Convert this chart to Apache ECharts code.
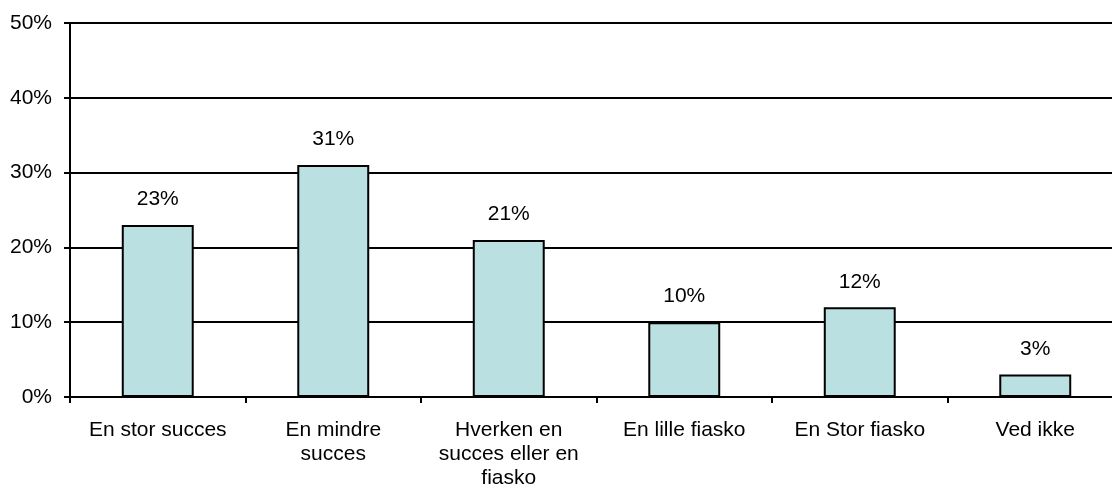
<!DOCTYPE html>
<html>
<head>
<meta charset="utf-8">
<script src="https://cdn.jsdelivr.net/npm/echarts@6/dist/echarts.min.js"></script>
<style>html,body{margin:0;padding:0;background:#fff;overflow:hidden;width:1112px;height:497px}#c{width:1123px;height:497px}</style>
</head>
<body>
<div id="c"></div>
<script>
const categories = ['En stor succes', 'En mindre\nsucces', 'Hverken en\nsucces eller en\nfiasko', 'En lille fiasko', 'En Stor fiasko', 'Ved ikke'];
const values = [23, 31, 21, 10, 12, 3];
const yTicks = [0, 10, 20, 30, 40, 50];

const chart = echarts.init(document.getElementById('c'), null, {renderer: 'canvas'});
const font = 'Liberation Sans, Arial, sans-serif';
chart.setOption({
  animation: false,
  grid: {left: 70, right: 0, top: 23, bottom: 100, containLabel: false},
  xAxis: {
    type: 'category',
    data: categories,
    axisLine: {lineStyle: {color: '#000', width: 2}},
    axisTick: {show: true, alignWithLabel: false, length: 6, lineStyle: {color: '#000', width: 2}},
    axisLabel: {color: '#000', fontSize: 21, fontFamily: font, margin: 21, lineHeight: 24, interval: 0}
  },
  yAxis: {
    type: 'value',
    min: yTicks[0],
    max: yTicks[yTicks.length - 1],
    interval: 10,
    axisLine: {show: true, lineStyle: {color: '#000', width: 2}},
    axisTick: {show: true, length: 6, lineStyle: {color: '#000', width: 2}},
    axisLabel: {color: '#000', fontSize: 21, fontFamily: font, margin: 18, formatter: v => v + '%'},
    splitLine: {show: true, lineStyle: {color: '#000', width: 1.8}}
  },
  series: [{
    type: 'bar',
    data: values,
    barWidth: '41%',
    itemStyle: {color: '#bbe0e2', borderColor: '#000', borderWidth: 2},
    label: {show: true, position: 'top', distance: 15, color: '#000', fontSize: 21, fontFamily: font, formatter: p => p.value + '%'}
  }]
});
</script>
</body>
</html>
